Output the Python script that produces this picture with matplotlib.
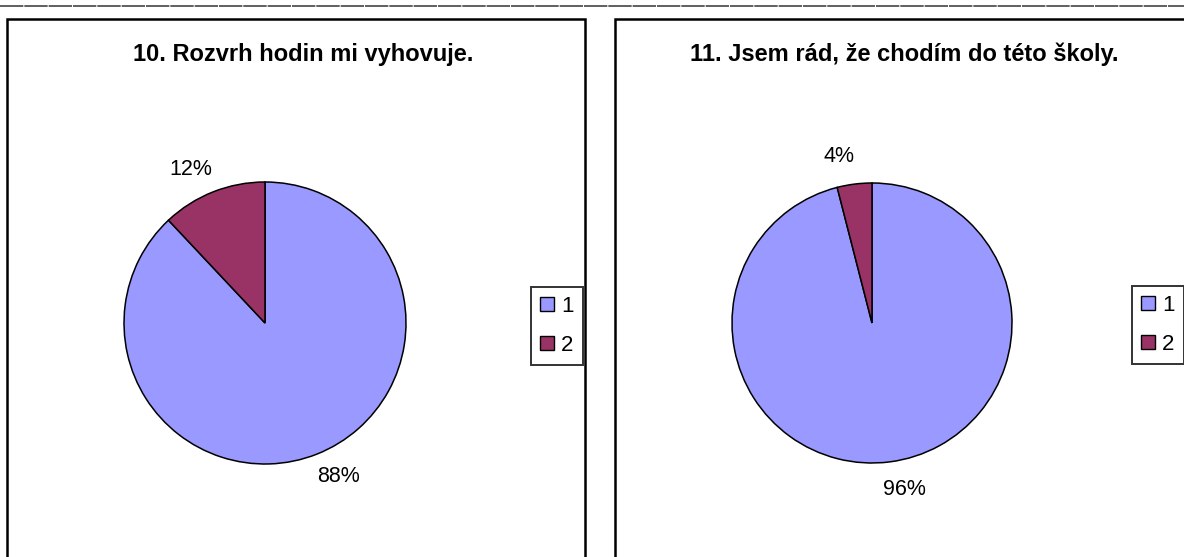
import numpy as np
import matplotlib.pyplot as plt
from matplotlib.patches import Rectangle, Patch
from matplotlib.lines import Line2D

plt.rcParams['font.family'] = ['Liberation Sans', 'DejaVu Sans']

# data
titles = ['10. Rozvrh hodin mi vyhovuje.', '11. Jsem rád, že chodím do této školy.']
answers = ['1', '2']
q10 = [88, 12]
q11 = [96, 4]
colors = ['#9999FF', '#993366']

W, H = 1184, 557
fig = plt.figure(figsize=(W / 100, H / 100), dpi=100)


def fx(px):
    return px / W


def fy(py):
    return 1 - py / H


# separator line at the top
fig.add_artist(Line2D([0, 1], [fy(5.5), fy(5.5)], color='#444444', lw=1.2,
                      dashes=(14, 0.6), transform=fig.transFigure))

# chart frames
for x0, x1 in [(7, 585), (615, 1193)]:
    fig.add_artist(Rectangle((fx(x0), fy(600)), fx(x1 - x0), fy(19) - fy(600),
                             fill=False, ec='black', lw=1.8,
                             transform=fig.transFigure))

charts = [
    (q10, titles[0], 265, 323, 141, 303, (531, 326)),
    (q11, titles[1], 872, 323, 140, 904, (1132, 325)),
]

for vals, title, cx, cy, r, tx, leg in charts:
    ax = fig.add_axes([fx(cx - r), fy(cy + r), fx(2 * r), fy(cy - r) - fy(cy + r)])
    wedges, texts = ax.pie(
        vals, colors=colors, startangle=90, counterclock=False,
        wedgeprops=dict(edgecolor='black', linewidth=1.1))
    # percentage labels just outside the pie, slightly rotated like the original
    total = sum(vals)
    for w, v in zip(wedges, vals):
        mid = np.deg2rad((w.theta1 + w.theta2) / 2 + 4)
        ax.text(1.21 * np.cos(mid), 1.21 * np.sin(mid), '%.0f%%' % (100 * v / total),
                ha='center', va='center', fontsize=15.5, color='black')
    ax.set_xlim(-1, 1)
    ax.set_ylim(-1, 1)
    ax.set_aspect('equal')
    ax.axis('off')

    fig.text(fx(tx), fy(61), title, ha='center', va='baseline',
             fontsize=17, fontweight='bold')

    handles = [Patch(facecolor=c, edgecolor='black', lw=1.0) for c in colors]
    lg = fig.legend(handles, answers, loc='center left',
                    bbox_to_anchor=(fx(leg[0]), fy(leg[1])),
                    bbox_transform=fig.transFigure,
                    fontsize=16, frameon=True, fancybox=False,
                    handlelength=0.62, handleheight=0.62, handletextpad=0.32,
                    labelspacing=0.8, borderpad=0.42, borderaxespad=0)
    lg.get_frame().set_edgecolor('black')
    lg.get_frame().set_linewidth(1.4)

fig.savefig('out.png', dpi=100)
